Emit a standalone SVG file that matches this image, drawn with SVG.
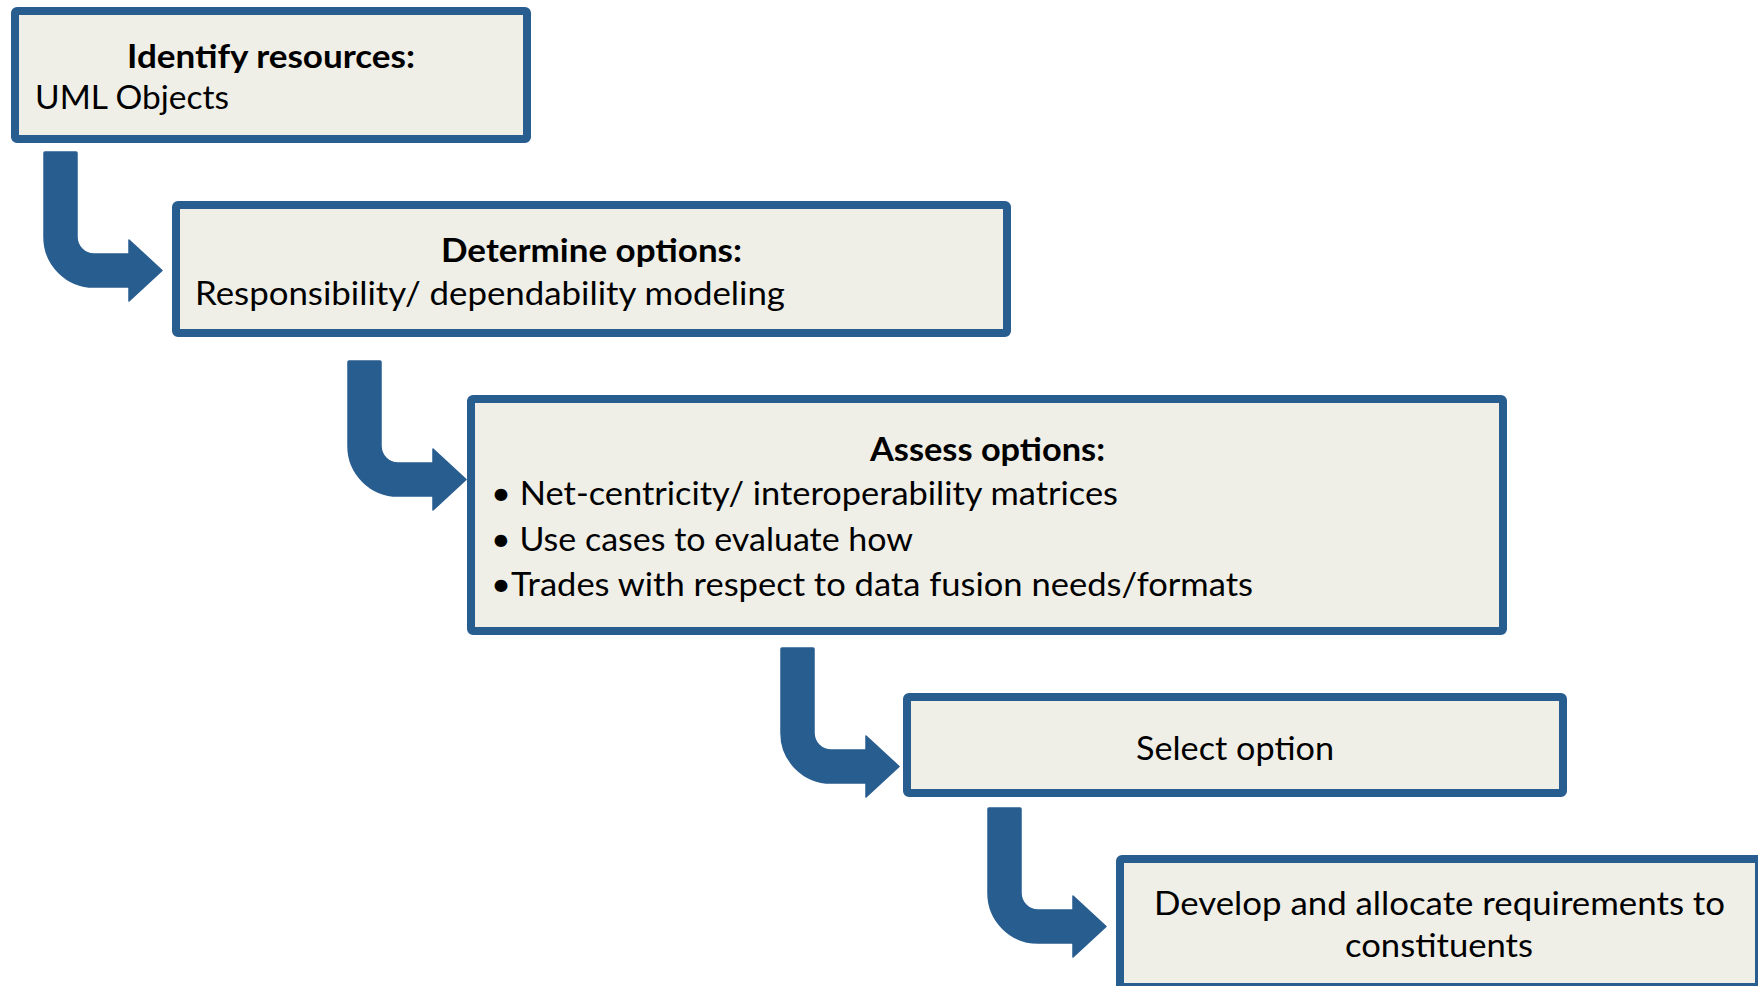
<svg xmlns="http://www.w3.org/2000/svg" width="1758" height="986" viewBox="0 0 1758 986">
<style>
.box{fill:#EFEEE7;stroke:#285D90;stroke-width:8;}
.arr{fill:#285D90;stroke:#285D90;stroke-width:1.5;stroke-linejoin:round;}
text{font-family:Lato,"Open Sans","Liberation Sans",sans-serif;font-size:32px;fill:#000;}
.b{font-weight:700;}
.c{text-anchor:middle;}
</style>
<defs>
<path id="bent" class="arr" d="M 1,0 H 32 Q 33,0 33,1 V 85 A 17 17 0 0 0 50 102 H 85 V 88 L 118 118.5 L 85 149 V 135 H 50 A 50 50 0 0 1 0 85 V 1 Q 0,0 1,0 Z"/>
</defs>
<rect width="1758" height="986" fill="#ffffff"/>
<g id="connectors">
<use href="#bent" transform="translate(44,152)"/>
<use href="#bent" transform="translate(348,361)"/>
<use href="#bent" transform="translate(781,648)"/>
<use href="#bent" transform="translate(988,808)"/>
</g>
<g id="node1">
<rect class="box" x="15" y="11" width="512" height="128" rx="2"/>
<text class="b c" x="271" y="68" textLength="288" lengthAdjust="spacingAndGlyphs">Identify resources:</text>
<text x="35" y="109" textLength="194" lengthAdjust="spacingAndGlyphs">UML Objects</text>
</g>
<g id="node2">
<rect class="box" x="176" y="205" width="831" height="128" rx="2"/>
<text class="b c" x="591.5" y="262" textLength="301" lengthAdjust="spacingAndGlyphs">Determine options:</text>
<text x="195" y="305" textLength="590" lengthAdjust="spacingAndGlyphs">Responsibility/ dependability modeling</text>
</g>
<g id="node3">
<rect class="box" x="471" y="399" width="1032" height="232" rx="2"/>
<text class="b c" x="987.5" y="461" textLength="235" lengthAdjust="spacingAndGlyphs">Assess options:</text>
<text x="491" y="505" textLength="627" lengthAdjust="spacingAndGlyphs">• Net-centricity/ interoperability matrices</text>
<text x="491" y="551" textLength="422" lengthAdjust="spacingAndGlyphs">• Use cases to evaluate how</text>
<text x="491" y="596" textLength="762" lengthAdjust="spacingAndGlyphs">•Trades with respect to data fusion needs/formats</text>
</g>
<g id="node4">
<rect class="box" x="907" y="697" width="656" height="96" rx="2"/>
<text class="c" x="1235" y="760" textLength="198" lengthAdjust="spacingAndGlyphs">Select option</text>
</g>
<g id="node5">
<rect class="box" x="1120" y="859" width="639" height="128" rx="2"/>
<text class="c" x="1439.5" y="915" textLength="571" lengthAdjust="spacingAndGlyphs">Develop and allocate requirements to</text>
<text class="c" x="1439" y="957" textLength="188" lengthAdjust="spacingAndGlyphs">constituents</text>
</g>
</svg>
